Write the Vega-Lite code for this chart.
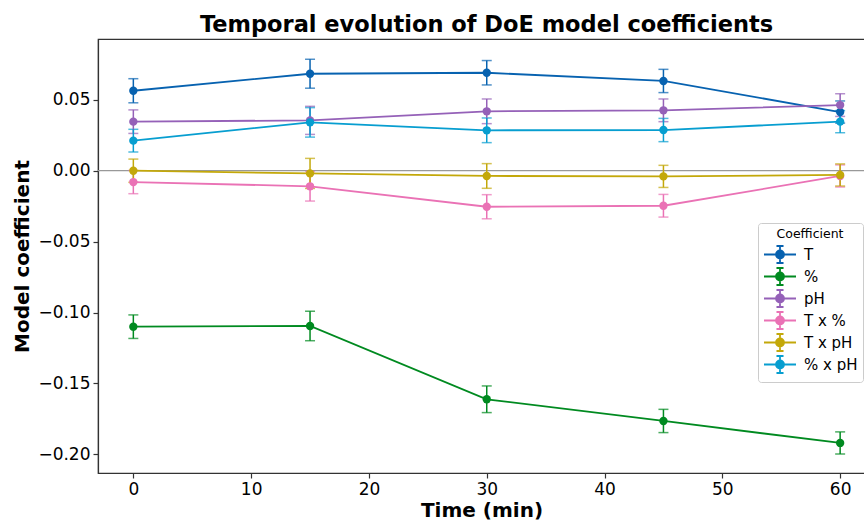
{
  "$schema": "https://vega.github.io/schema/vega-lite/v6.json",
  "autosize": {"type": "none"},
  "padding": {"left": 98, "top": 39, "right": 0, "bottom": 48},
  "width": 767,
  "height": 434,
  "background": "white",
  "title": {"text": "Temporal evolution of DoE model coefficients", "font": "DejaVu Sans", "fontSize": 22.5, "fontWeight": "bold", "color": "black", "anchor": "middle", "frame": "group", "dx": 5, "dy": 22, "offset": 7, "baseline": "alphabetic"},
  "config": {
    "font": "DejaVu Sans",
    "view": {"stroke": "#333", "strokeWidth": 1.2},
    "axis": {"grid": false, "domainColor": "#333", "domainWidth": 1.2, "tickColor": "#333", "tickWidth": 1.2, "tickSize": 5, "labelFontSize": 17, "labelColor": "black", "labelFont": "DejaVu Sans", "titleFont": "DejaVu Sans", "titleFontSize": 20, "titleFontWeight": "bold", "titleColor": "black", "labelPadding": 3}
  },
  "datasets": {
    "coefs": [
      {"time": 0, "coefficient": "T", "value": 0.0564, "err": 0.0085},
      {"time": 15, "coefficient": "T", "value": 0.0684, "err": 0.0102},
      {"time": 30, "coefficient": "T", "value": 0.0691, "err": 0.0086},
      {"time": 45, "coefficient": "T", "value": 0.0633, "err": 0.0082},
      {"time": 60, "coefficient": "T", "value": 0.0414, "err": 0.0078},
      {"time": 0, "coefficient": "%", "value": -0.110, "err": 0.0083},
      {"time": 15, "coefficient": "%", "value": -0.1095, "err": 0.0104},
      {"time": 30, "coefficient": "%", "value": -0.1612, "err": 0.0094},
      {"time": 45, "coefficient": "%", "value": -0.1765, "err": 0.0082},
      {"time": 60, "coefficient": "%", "value": -0.192, "err": 0.0078},
      {"time": 0, "coefficient": "pH", "value": 0.0346, "err": 0.0083},
      {"time": 15, "coefficient": "pH", "value": 0.0355, "err": 0.0099},
      {"time": 30, "coefficient": "pH", "value": 0.0419, "err": 0.0087},
      {"time": 45, "coefficient": "pH", "value": 0.0426, "err": 0.008},
      {"time": 60, "coefficient": "pH", "value": 0.0463, "err": 0.008},
      {"time": 0, "coefficient": "T x %", "value": -0.008, "err": 0.0082},
      {"time": 15, "coefficient": "T x %", "value": -0.011, "err": 0.0104},
      {"time": 30, "coefficient": "T x %", "value": -0.0254, "err": 0.0085},
      {"time": 45, "coefficient": "T x %", "value": -0.0247, "err": 0.008},
      {"time": 60, "coefficient": "T x %", "value": -0.0037, "err": 0.0078},
      {"time": 0, "coefficient": "T x pH", "value": 0.0, "err": 0.0082},
      {"time": 15, "coefficient": "T x pH", "value": -0.0019, "err": 0.0106},
      {"time": 30, "coefficient": "T x pH", "value": -0.0037, "err": 0.0087},
      {"time": 45, "coefficient": "T x pH", "value": -0.004, "err": 0.0078},
      {"time": 60, "coefficient": "T x pH", "value": -0.003, "err": 0.0078},
      {"time": 0, "coefficient": "% x pH", "value": 0.0212, "err": 0.008},
      {"time": 15, "coefficient": "% x pH", "value": 0.0341, "err": 0.0104},
      {"time": 30, "coefficient": "% x pH", "value": 0.0285, "err": 0.0087},
      {"time": 45, "coefficient": "% x pH", "value": 0.0287, "err": 0.0082},
      {"time": 60, "coefficient": "% x pH", "value": 0.0346, "err": 0.0078}
    ],
    "zero": [{"y": 0}]
  },
  "layer": [
    {
      "data": {"name": "zero"},
      "mark": {"type": "rule", "color": "#999999", "strokeWidth": 1.3},
      "encoding": {"y": {"field": "y", "type": "quantitative", "scale": {"domain": [-0.2132, 0.0929], "nice": false, "zero": false}}}
    },
    {
      "data": {"name": "coefs"},
      "encoding": {
        "x": {"field": "time", "type": "quantitative", "scale": {"domain": [-3, 62.11], "nice": false, "zero": false}, "axis": {"values": [0, 10, 20, 30, 40, 50, 60], "title": "Time (min)", "titlePadding": 3}},
        "color": {
          "field": "coefficient", "type": "nominal",
          "scale": {"domain": ["T", "%", "pH", "T x %", "T x pH", "% x pH"], "range": ["#0762b0", "#008a20", "#9561b8", "#ea72b5", "#c3a80a", "#079ed0"]},
          "legend": {
            "title": "Coefficient", "orient": "none", "legendX": 660, "legendY": 184,
            "titleFontSize": 12.5, "titleFontWeight": "normal", "titleColor": "black", "titleAnchor": "middle", "titlePadding": 5,
            "labelFontSize": 15, "labelColor": "black", "labelOffset": 23,
            "symbolType": "M-1,0H3M1,-1.06V1.06M0.56,-1.06H1.44M0.56,1.06H1.44M1.5,0A0.5,0.5 0 1 1 0.5,0A0.5,0.5 0 1 1 1.5,0Z",
            "symbolSize": 256, "symbolStrokeWidth": 1.8, "rowPadding": -4.8,
            "padding": 5, "fillColor": "rgba(255,255,255,0.85)", "strokeColor": "#cccccc", "cornerRadius": 3,
            "encode": {"symbols": {"update": {"fill": {"scale": "color", "field": "value"}, "stroke": {"scale": "color", "field": "value"}, "opacity": {"value": 1}}}}
          }
        }
      },
      "layer": [
        {
          "mark": {"type": "errorbar", "ticks": {"size": 10, "thickness": 1.5}, "thickness": 1.5},
          "encoding": {
            "y": {"field": "value", "type": "quantitative", "title": "Model coefficient", "axis": {"values": [-0.2, -0.15, -0.1, -0.05, 0, 0.05], "format": ".2f", "titlePadding": 5}},
            "yError": {"field": "err"}
          }
        },
        {
          "mark": {"type": "line", "strokeWidth": 1.8},
          "encoding": {"y": {"field": "value", "type": "quantitative"}}
        },
        {
          "mark": {"type": "point", "filled": true, "size": 70, "opacity": 1},
          "encoding": {"y": {"field": "value", "type": "quantitative"}}
        }
      ]
    }
  ]
}
